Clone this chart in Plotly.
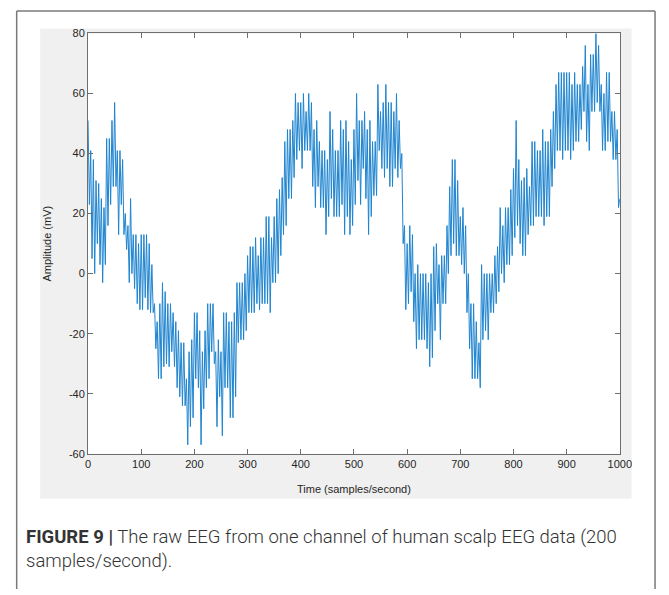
import numpy as np
import plotly.graph_objects as go

# Raw scalp EEG trace, one channel: alternating local maxima / minima (mV),
# one value every 2.5 samples from sample 0 to 1000.
eeg_mv = [
    51, 23, 41, 5,     38, 0, 31, 10,     30, 3, 25, -3,     22, 3, 45, 16,
    45, 23, 51, 29,    57, 29, 41, 13,    41, 23, 38, 13,    20, 8, 16, -3,
    25, 0, 13, -5,     13, -10, 10, -12,  13, -12, 13, -8,   13, -12, 10, -13,
    3, -13, -10, -25,  -16, -35, -10, -35, -3, -31, -6, -30, -10, -31, -10, -26,
    -13, -31, -16, -38, -19, -41, -23, -44, -23, -44, -35, -57, -26, -51, -22, -48,
    -13, -35, -13, -38, -19, -57, -26, -45, -19, -38, -10, -35, -10, -26, -10, -30,
    -26, -51, -22, -41, -26, -54, -13, -38, -13, -38, -16, -48, -16, -48, -13, -41,
    -3, -23, -3, -22,  -3, -22, 0, -19,   6, -13, 9, -13,    9, -13, 12, -10,
    6, -12, 12, -10,   12, -10, 19, -10,  19, -13, 12, -3,   19, -3, 25, 0,
    28, 6, 32, 13,     44, 16, 48, 25,    48, 25, 51, 32,    60, 38, 57, 41,
    57, 35, 60, 41,    54, 41, 60, 41,    57, 29, 48, 22,    51, 29, 44, 22,
    41, 22, 41, 13,    38, 19, 54, 25,    48, 19, 41, 19,    41, 19, 51, 23,
    48, 13, 51, 19,    44, 13, 38, 16,    48, 23, 60, 31,    51, 23, 51, 35,
    54, 25, 48, 13,    51, 19, 44, 26,    44, 26, 63, 41,    54, 35, 57, 32,
    63, 35, 57, 29,    57, 29, 54, 35,    60, 32, 51, 35,    40, 10, 16, -12,
    10, -10, 16, -6,   13, -16, 0, -25,   3, -22, 0, -22,    0, -22, 0, -25,
    -3, -31, 0, -28,   9, -19, 10, -10,   3, -22, 6, -10,    6, -10, 16, 0,
    29, 6, 38, 10,     38, 6, 31, 6,      19, 3, 22, 0,      16, -13, 0, -25,
    -10, -35, -10, -35, -16, -35, -23, -38, 3, -22, 0, -19,  0, -22, 0, -13,
    0, -13, 6, -10,    9, -6, 22, 0,      16, -3, 22, 3,     22, 3, 28, 6,
    35, 12, 51, 16,    38, 10, 31, 6,     32, 6, 35, 13,     29, 16, 44, 16,
    44, 19, 41, 19,    41, 19, 48, 16,    44, 19, 44, 19,    48, 29, 54, 35,
    63, 41, 67, 41,    67, 38, 67, 41,    67, 41, 67, 38,    63, 41, 67, 44,
    63, 44, 63, 48,    69, 54, 76, 44,    63, 41, 73, 54,    73, 54, 80, 57,
    76, 54, 63, 41,    60, 41, 67, 44,    67, 44, 54, 38,    54, 38, 48, 22,
    25,
]
sample_step = 2.5
samples = np.arange(len(eeg_mv)) * sample_step

x_ticks = [0, 100, 200, 300, 400, 500, 600, 700, 800, 900, 1000]
y_ticks = [-60, -40, -20, 0, 20, 40, 60, 80]

W, H = 669, 595
# plot area in pixels
px_l, px_r, px_t, px_b = 87, 631, 28, 457


def fx(p):
    return p / W


def fy(p):
    return 1 - p / H


fig = go.Figure()
fig.add_trace(go.Scatter(
    x=samples, y=eeg_mv, mode="lines",
    line=dict(color="#1f84cf", width=1),
    hoverinfo="skip", showlegend=False,
))

axis_col = "#6e6e6e"
tick_font = dict(family="Liberation Sans, Arial, sans-serif", size=11, color="#262626")
frame = dict(color="#7a7a7a", width=1.5)
caption_font = dict(family="Roboto, sans-serif", size=18.5, color="#333333", weight=300)

fig.update_layout(
    width=W, height=H,
    margin=dict(l=0, r=0, t=0, b=0),
    paper_bgcolor="white",
    plot_bgcolor="white",
    xaxis=dict(
        domain=[fx(px_l), fx(px_r)], range=[0, 1000],
        tickvals=x_ticks, ticktext=[str(v) for v in x_ticks],
        ticks="inside", ticklen=5, tickwidth=1, tickcolor=axis_col,
        showline=True, linecolor=axis_col, linewidth=1, mirror="allticks",
        showgrid=False, zeroline=False, tickfont=tick_font,
    ),
    yaxis=dict(
        domain=[fy(px_b), fy(px_t)], range=[-60, 80],
        tickvals=y_ticks, ticktext=[str(v) for v in y_ticks],
        ticks="inside", ticklen=5, tickwidth=1, tickcolor=axis_col,
        showline=True, linecolor=axis_col, linewidth=1, mirror="allticks",
        showgrid=False, zeroline=False, tickfont=tick_font,
    ),
    shapes=[
        # outer frame of the figure panel (open at the page bottom)
        dict(type="line", xref="paper", yref="paper",
             x0=fx(14), x1=fx(14), y0=0, y1=fy(5), line=frame, layer="below"),
        dict(type="line", xref="paper", yref="paper",
             x0=fx(14), x1=fx(667), y0=fy(5), y1=fy(5), line=frame, layer="below"),
        dict(type="line", xref="paper", yref="paper",
             x0=fx(667), x1=fx(667), y0=0, y1=fy(5), line=frame, layer="below"),
        # grey figure window behind the axes
        dict(type="rect", xref="paper", yref="paper",
             x0=fx(38), x1=fx(643), y0=fy(503), y1=fy(23),
             line=dict(width=0), fillcolor="#f0f0f0", layer="below"),
        # white axes area
        dict(type="rect", xref="paper", yref="paper",
             x0=fx(px_l), x1=fx(px_r), y0=fy(px_b), y1=fy(px_t),
             line=dict(width=0), fillcolor="white", layer="below"),
    ],
    annotations=[
        dict(text="Time (samples/second)", xref="paper", yref="paper",
             x=fx((px_l + px_r) / 2), y=fy(493), showarrow=False,
             xanchor="center", yanchor="middle",
             font=dict(family="Liberation Sans, Arial, sans-serif", size=11, color="#262626")),
        dict(text="Amplitude (mV)", xref="paper", yref="paper",
             x=fx(45), y=fy((px_t + px_b) / 2), showarrow=False, textangle=-90,
             xanchor="center", yanchor="middle",
             font=dict(family="Liberation Sans, Arial, sans-serif", size=11, color="#262626")),
        dict(text="<b>FIGURE 9 |</b> The raw EEG from one channel of human scalp EEG data (200",
             xref="paper", yref="paper", x=fx(21), y=fy(542), showarrow=False,
             xanchor="left", yanchor="middle", font=caption_font),
        dict(text="samples/second).",
             xref="paper", yref="paper", x=fx(21), y=fy(566), showarrow=False,
             xanchor="left", yanchor="middle", font=caption_font),
    ],
)

fig.write_html("out.html")
